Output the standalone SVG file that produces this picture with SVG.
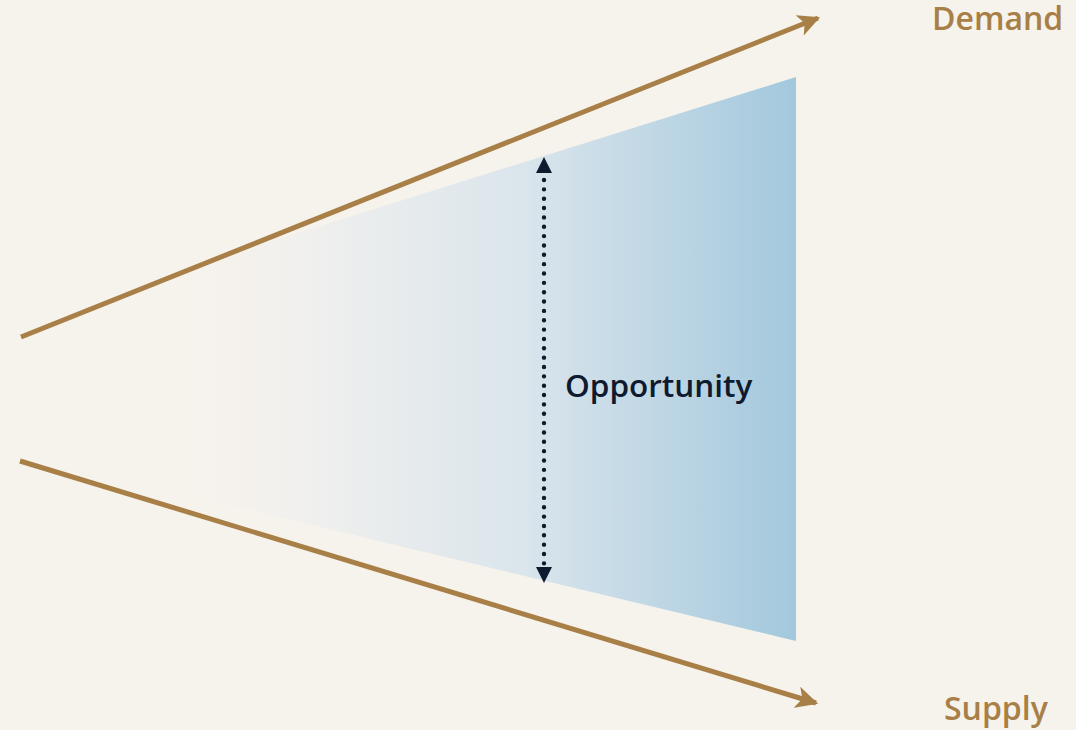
<svg xmlns="http://www.w3.org/2000/svg" width="1076" height="730" viewBox="0 0 1076 730">
<defs>
<style>
.trend{stroke:#A87F46;stroke-width:5;fill:none}
.lbl{font-family:"Open Sans","Noto Sans",sans-serif;font-weight:600}
.brown{fill:#A87F46}
</style>
<linearGradient id="fade" x1="0" y1="0" x2="1" y2="0" gradientUnits="objectBoundingBox">
<stop offset="0.2" stop-color="#F6F2EC" stop-opacity="0"/>
<stop offset="0.36" stop-color="#F1F0EE" stop-opacity="1"/>
<stop offset="0.65" stop-color="#DAE5EC"/>
<stop offset="1" stop-color="#A3C8DD"/>
</linearGradient>
<marker id="ah" viewBox="0 0 10 10" refX="9" refY="5" markerWidth="4.4" markerHeight="4.4" orient="auto" markerUnits="strokeWidth">
<path d="M0,0 L10,5 L0,10 L2.5,5 Z" fill="#A87F46"/>
</marker>
</defs>
<rect width="1076" height="730" fill="#F6F2EC"/>
<g id="opportunity-area">
<polygon points="20,320 796,77 796,641 20,455" fill="url(#fade)"/>
</g>
<g id="connectors">
<line class="trend" x1="21" y1="337" x2="818" y2="18" marker-end="url(#ah)"/>
<line class="trend" x1="20" y1="461" x2="816" y2="703" marker-end="url(#ah)"/>
<line x1="544" y1="180" x2="544" y2="564" stroke="#0F1A2E" stroke-width="4.4" stroke-linecap="round" stroke-dasharray="0 9.35"/>
<path d="M544,157 L552,173 L536,173 Z" fill="#0F1A2E"/>
<path d="M544,583 L552,567 L536,567 Z" fill="#0F1A2E"/>
</g>
<g id="demand">
<text class="lbl brown" x="932" y="30" font-size="32">Demand</text>
</g>
<g id="supply">
<text class="lbl brown" x="944" y="720" font-size="32">Supply</text>
</g>
<g id="opportunity">
<text class="lbl" x="565" y="397" font-size="31.5" fill="#0F1A2E">Opportunity</text>
</g>
</svg>
